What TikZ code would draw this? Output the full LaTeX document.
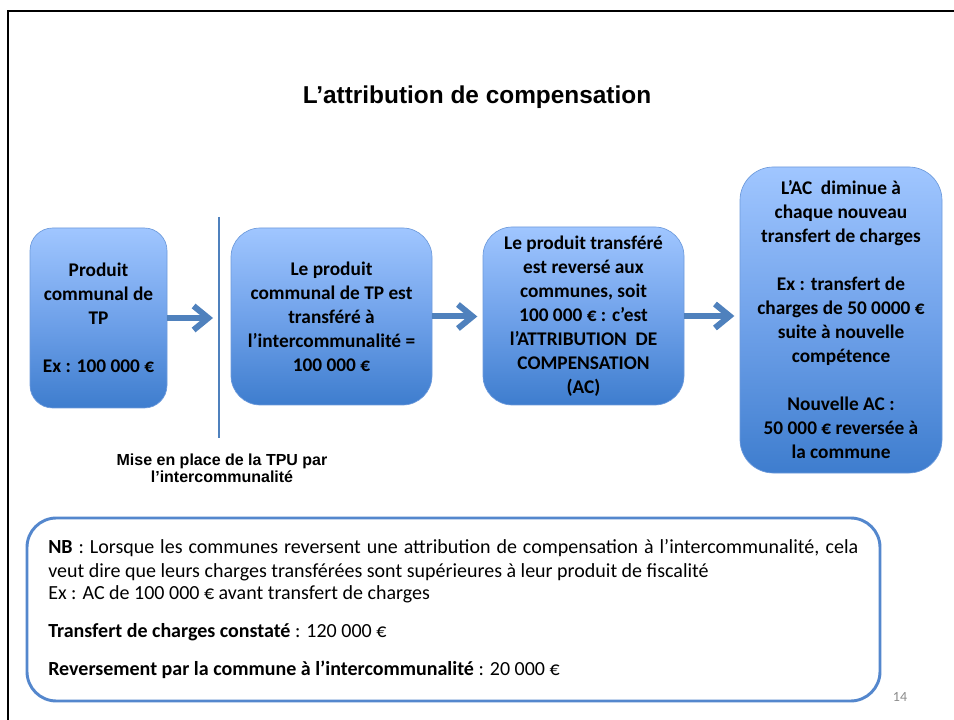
\documentclass[tikz,border=0pt]{standalone}
\usepackage{fontspec}
\setmainfont{Carlito}
\newfontfamily\arialfont{Liberation Sans}
\usetikzlibrary{arrows.meta}
\definecolor{boxtop}{RGB}{160,198,255}
\definecolor{boxmid}{RGB}{112,162,234}
\definecolor{boxbot}{RGB}{62,125,206}
\definecolor{boxedge}{RGB}{110,155,220}
\definecolor{accent}{RGB}{79,129,189}
\definecolor{nbborder}{RGB}{84,135,205}
\definecolor{pagegray}{RGB}{140,140,140}
\tikzset{
  bluebox/.style={draw=boxedge, line width=0.5pt, top color=boxtop, bottom color=boxbot, middle color=boxmid,
    align=center, inner sep=0pt, text=black,
    font=\bfseries\fontsize{14.5}{18}\selectfont},
  flowarrow/.style={draw=accent, line width=4.5pt, -{Straight Barb[length=11pt,width=18pt]}},
  divider/.style={draw=accent, line width=2.2pt},
  framestyle/.style={draw=black, line width=2.2pt},
  nbbox/.style={draw=nbborder, line width=2.2pt, fill=white, rounded corners=22pt},
  nbtext/.style={anchor=mid west, inner sep=0pt, font=\fontsize{15}{17}\selectfont},
}
\begin{document}
\begin{tikzpicture}[x=0.75pt,y=0.75pt]
\useasboundingbox (0,0) rectangle (954,-720);
\fill[white] (0,0) rectangle (954,-720);
% frame
\coordinate (fbl) at (8,-720);
\coordinate (ftl) at (8,-11);
\coordinate (ftr) at (954,-11);
\draw[framestyle] (fbl) -- (ftl) -- (ftr);
% title
\node (title) at (477,-97) {\arialfont\bfseries\fontsize{18.3}{22}\selectfont L’attribution de compensation};
% boxes
\node[bluebox, minimum width=102.75pt, minimum height=135pt, rounded corners=17pt] (b1) at (98.5,-318)
  {Produit\\communal de\\TP\\~\\Ex : 100 000 €};
\node[bluebox, minimum width=150.75pt, minimum height=132.75pt, rounded corners=22pt] (b2) at (331.5,-316.5)
  {Le produit\\communal de TP est\\transféré à\\l’intercommunalité =\\100 000 €};
\node[bluebox, minimum width=150.75pt, minimum height=133.5pt, rounded corners=22pt] (b3) at (583.5,-316)
  {Le produit transféré\\est reversé aux\\communes, soit\\100 000 € : c’est\\l’ATTRIBUTION\ \ DE\\COMPENSATION\\(AC)};
\node[bluebox, minimum width=151.5pt, minimum height=229.5pt, rounded corners=25pt] (b4) at (841,-320)
  {L’AC\ \ diminue à\\chaque nouveau\\transfert de charges\\~\\Ex : transfert de\\charges de 50 0000 €\\suite à nouvelle\\compétence\\~\\Nouvelle AC :\\50 000 € reversée à\\la commune};
% divider
\coordinate (dtop) at (219,-217);
\coordinate (dbot) at (219,-438);
\draw[divider] (dtop) -- (dbot);
% arrows
\coordinate (a1e) at (213,-318);
\draw[flowarrow] (b1.east) -- (a1e);
\draw[flowarrow, shorten >=4pt] (b2.east) -- (b2.east -| b3.west);
\draw[flowarrow, shorten >=4pt] (b3.east) -- (b3.east -| b4.west);
% caption
\node[align=center, inner sep=0pt, font=\arialfont\bfseries\fontsize{12}{12.75}\selectfont] (cap) at (222,-468.5)
  {Mise en place de la TPU par\\l’intercommunalité};
% NB box
\node[nbbox, minimum width=639.75pt, minimum height=137.25pt] (nb) at (453.5,-609.5) {};
\node[nbtext] (nb1) at (48,-550) {\hbox to 607.5pt{\textbf{NB} : Lorsque les communes reversent une attribution de compensation à l’intercommunalité, cela}};
\node[nbtext] (nb2) at (48,-574) {veut dire que leurs charges transférées sont supérieures à leur produit de fiscalité};
\node[nbtext] (nb3) at (48,-596) {Ex : AC de 100 000 € avant transfert de charges};
\node[nbtext] (nb4) at (48,-634) {\textbf{Transfert de charges constaté} : 120 000 €};
\node[nbtext] (nb5) at (48,-672) {\textbf{Reversement par la commune à l’intercommunalité} : 20 000 €};
% page number
\node[text=pagegray, inner sep=0pt] (pg) at (900,-697) {\fontsize{10.5}{12}\selectfont 14};
\end{tikzpicture}
\end{document}
